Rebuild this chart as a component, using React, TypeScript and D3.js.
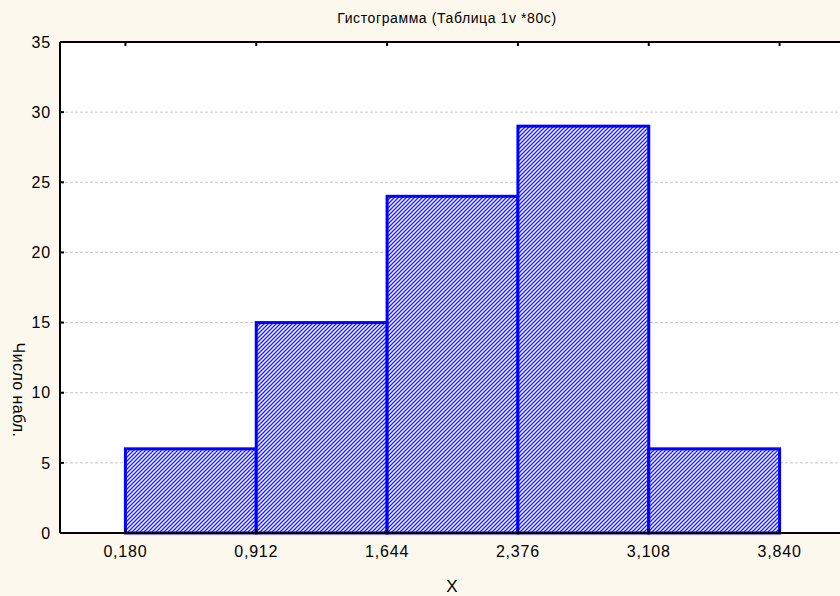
import React from "react";
import * as d3 from "d3";

const binEdges = [0.18, 0.912, 1.644, 2.376, 3.108, 3.84];
const counts = [6, 15, 24, 29, 6];
const xTickLabels = ["0,180", "0,912", "1,644", "2,376", "3,108", "3,840"];
const yTicks = [0, 5, 10, 15, 20, 25, 30, 35];
const title = "Гистограмма (Таблица 1v *80c)";
const xLabel = "X";
const yLabel = "Число набл.";

export default function App() {
  const W = 840, H = 596;
  const left = 60, right = 845, top = 42, bottom = 533;
  const half = (binEdges[1] - binEdges[0]) / 2;
  const x = d3.scaleLinear().domain([binEdges[0] - half, binEdges[binEdges.length - 1] + half]).range([left, right]);
  const y = d3.scaleLinear().domain([0, 35]).range([bottom, top]);
  const font = "'Liberation Sans', Arial, Helvetica, sans-serif";
  return (
    <svg width={W} height={H} style={{ position: "absolute", left: 0, top: 0, display: "block" }}>
      <defs>
        <pattern id="hatch" width="4" height="4" patternUnits="userSpaceOnUse">
          <rect width="4" height="4" fill="#f4f4ff" />
          <path d="M-1,1 l2,-2 M0,4 l4,-4 M3,5 l2,-2" stroke="#2020ff" strokeWidth="1.3" />
        </pattern>
      </defs>
      <rect x={0} y={0} width={W} height={H} fill="#fdf8ed" />
      <rect x={left} y={top} width={right - left} height={bottom - top} fill="#ffffff" />
      {yTicks.slice(1, -1).map((t) => (
        <line key={t} x1={left} x2={right} y1={y(t)} y2={y(t)} stroke="#c8c8c8" strokeDasharray="3,2" strokeWidth={1} />
      ))}
      {counts.map((c, i) => (
        <rect key={i} x={x(binEdges[i])} y={y(c)} width={x(binEdges[i + 1]) - x(binEdges[i])} height={y(0) - y(c)}
          fill="url(#hatch)" stroke="#0000ff" strokeWidth={3} />
      ))}
      <line x1={left} x2={right} y1={top} y2={top} stroke="#000" strokeWidth={2} />
      <line x1={left} x2={right} y1={bottom} y2={bottom} stroke="#000" strokeWidth={2} />
      <line x1={left} x2={left} y1={top} y2={bottom} stroke="#000" strokeWidth={2} />
      {yTicks.map((t) => (
        <g key={t}>
          <line x1={left} x2={left + 4} y1={y(t)} y2={y(t)} stroke="#000" strokeWidth={2} />
          <text x={left - 9} y={y(t)} dy="0.36em" textAnchor="end" fontFamily={font} fontSize={16} letterSpacing={0.8} fill="#000">{t}</text>
        </g>
      ))}
      {binEdges.map((v, i) => (
        <g key={i}>
          <line x1={x(v)} x2={x(v)} y1={top} y2={top + 4} stroke="#000" strokeWidth={2} />
          <line x1={x(v)} x2={x(v)} y1={bottom} y2={bottom - 4} stroke="#000" strokeWidth={2} />
          <text x={x(v)} y={bottom + 24} textAnchor="middle" fontFamily={font} fontSize={16} letterSpacing={0.8} fill="#000">{xTickLabels[i]}</text>
        </g>
      ))}
      <text x={447} y={23} textAnchor="middle" fontFamily={font} fontSize={14} letterSpacing={0.6} fill="#000">{title}</text>
      <text x={452} y={592} textAnchor="middle" fontFamily={font} fontSize={17} fill="#000">{xLabel}</text>
      <text transform={`translate(13,${390}) rotate(90)`} textAnchor="middle" fontFamily={font} fontSize={16} letterSpacing={0.4} fill="#000">{yLabel}</text>
    </svg>
  );
}
